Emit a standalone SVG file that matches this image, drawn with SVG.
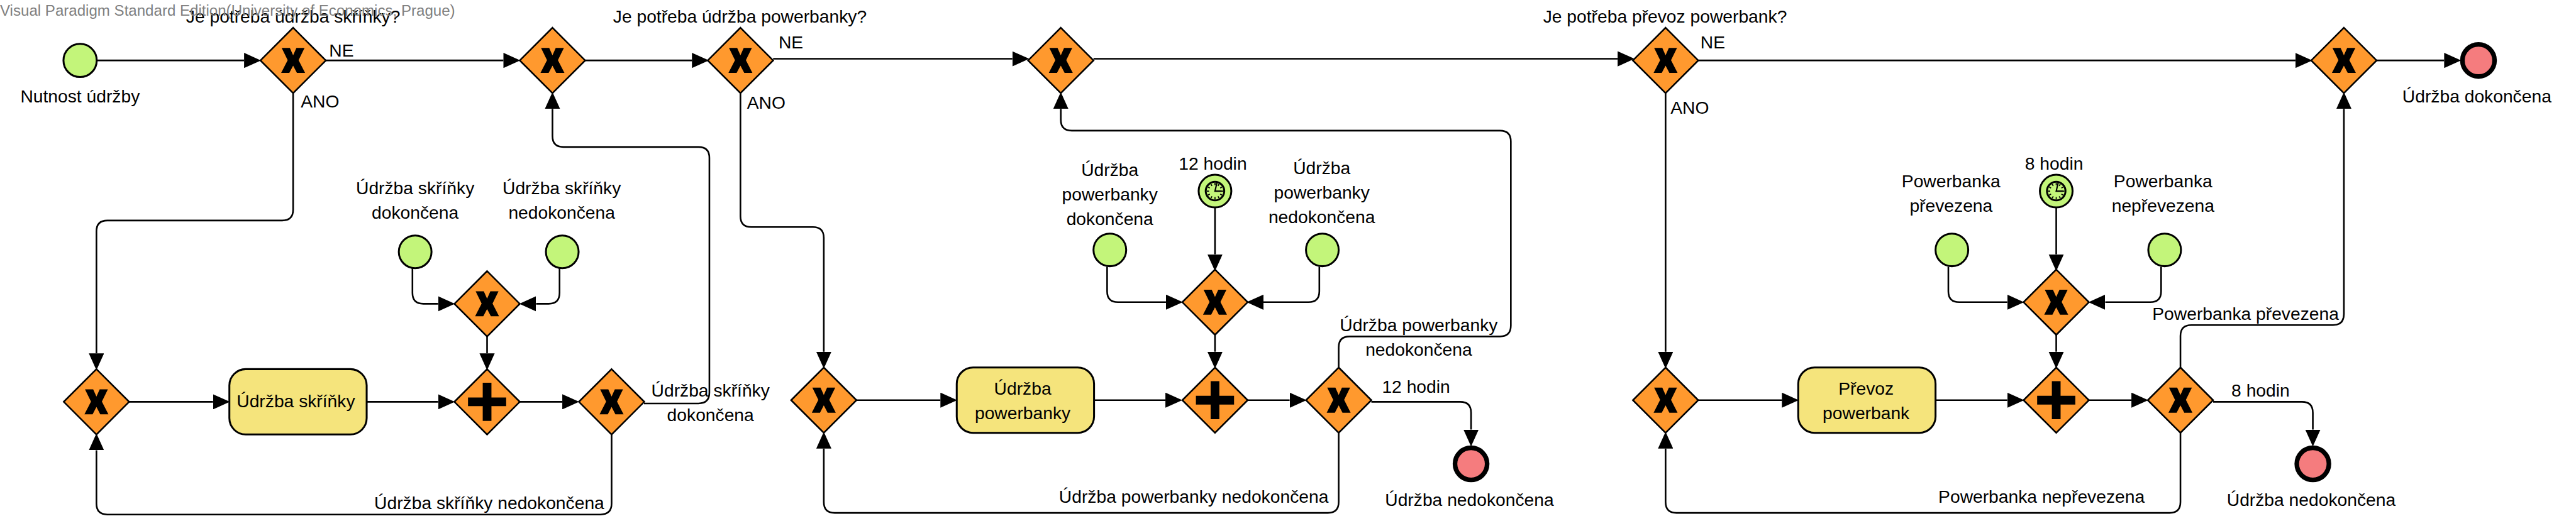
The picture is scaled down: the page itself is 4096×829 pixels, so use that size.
<svg xmlns="http://www.w3.org/2000/svg" width="4096" height="829" viewBox="0 0 4096 829">
<style>
text{font-family:"Liberation Sans",Arial,sans-serif;font-size:32.6px;fill:#000;text-anchor:middle}
text.l{text-anchor:start}
text.wm{text-anchor:start;fill:#808080;font-size:27.8px}
.ca{fill:none;stroke:#000;stroke-width:3;marker-end:url(#arrow)}
.gw{fill:#FF992E;stroke:#000;stroke-width:3;stroke-linejoin:miter}
.ev{fill:#C3F57A;stroke:#000;stroke-width:3.5}
.end{fill:#F57C7E;stroke:#000;stroke-width:8.5}
.task{fill:#F5E47C;stroke:#000;stroke-width:3.5}
</style>
<defs>
<marker id="arrow" markerUnits="userSpaceOnUse" markerWidth="31" markerHeight="28" viewBox="0 0 30 27" refX="0" refY="13.5" orient="auto"><path d="M0 0L30 13.5L0 27Z" fill="#000"/></marker>
<g id="gwx"><polygon class="gw" points="0,-60 60,0 0,60 -60,0"/><path d="M-21 -23H-6L0 -9.500L6 -23H21L10 -.500L22 23H7L0 9.500L-7 23H-22L-10 -.500Z" fill="#000"/></g>
<g id="gwp"><polygon class="gw" points="0,-60 60,0 0,60 -60,0"/><path d="M-8 -35H8V-8H35V8H8V35H-8V8H-35V-8H-8Z" fill="#000"/></g>
<g id="timer"><circle class="ev" r="30"/><circle r="17" fill="none" stroke="#000" stroke-width="3.500"/><path d="M0-15V-11M7.500-13L5.500-9.500M13-7.500L9.500-5.500M15 0H11M13 7.500L9.500 5.500M7.500 13L5.500 9.500M0 15V11M-7.500 13L-5.500 9.500M-13 7.500L-9.500 5.500M-15 0H-11M-13-7.500L-9.500-5.500M-7.500-13L-5.500-9.500" stroke="#000" stroke-width="2" fill="none"/><path d="M3.500-15L0 0H12" stroke="#000" stroke-width="2.500" fill="none"/></g>
</defs>
<g transform="scale(0.86633)">
<g id="connectors">
<path class="ca" d="M178 111H448"/>
<path class="ca" d="M598 111H924"/>
<path class="ca" d="M1074 111H1270"/>
<path class="ca" d="M1419 108H1858"/>
<path class="ca" d="M2007 108H2969"/>
<path class="ca" d="M3117 111H4213"/>
<path class="ca" d="M4362 111H4486"/>
<path class="ca" d="M538 171V385Q538 405 518 405H197Q177 405 177 425V649"/>
<path class="ca" d="M237 738H391"/>
<path class="ca" d="M673 738H804"/>
<path class="ca" d="M954 738H1032"/>
<path class="ca" d="M894 618V649"/>
<path class="ca" d="M757 493V538Q757 558 777 558H804"/>
<path class="ca" d="M1027 493V538Q1027 558 1007 558H984"/>
<path class="ca" d="M1182 741H1282Q1302 741 1302 721V290Q1302 270 1282 270H1034Q1014 270 1014 250V200"/>
<path class="ca" d="M1122.500 798V925Q1122.500 945 1102 945H197Q177 945 177 925V827"/>
<path class="ca" d="M1359 171V397Q1359 417 1379 417H1492Q1512 417 1512 437V646"/>
<path class="ca" d="M1572 735H1726"/>
<path class="ca" d="M2008 735H2139"/>
<path class="ca" d="M2290 735H2367"/>
<path class="ca" d="M2230 615V646"/>
<path class="ca" d="M2230 382V467"/>
<path class="ca" d="M2032 490V535Q2032 555 2052 555H2140"/>
<path class="ca" d="M2421.500 490V535Q2421.500 555 2401.500 555H2319"/>
<path class="ca" d="M2457 675V638Q2457 618 2477 618H2753Q2773 618 2773 598V260Q2773 240 2753 240H1967Q1947 240 1947 220V200"/>
<path class="ca" d="M2517 738H2680Q2700 738 2700 758V789"/>
<path class="ca" d="M2457 795V922Q2457 942 2437 942H1532Q1512 942 1512 922V824"/>
<path class="ca" d="M3057 171V646"/>
<path class="ca" d="M3117 735H3270.500"/>
<path class="ca" d="M3552 735H3684"/>
<path class="ca" d="M3834 735H3912"/>
<path class="ca" d="M3774 615V646"/>
<path class="ca" d="M3774 382V467"/>
<path class="ca" d="M3576 490V535Q3576 555 3596 555H3684"/>
<path class="ca" d="M3966.500 490V535Q3966.500 555 3946.500 555H3864"/>
<path class="ca" d="M4002 675V617Q4002 597 4022 597H4282Q4302 597 4302 577V200"/>
<path class="ca" d="M4062 738H4225Q4245 738 4245 758V789"/>
<path class="ca" d="M4002 795V922Q4002 942 3982 942H3077Q3057 942 3057 922V824"/>
<text class="l" x="604" y="104">NE</text>
<text class="l" x="552" y="197">ANO</text>
<text class="l" x="1429" y="89">NE</text>
<text class="l" x="1371" y="200">ANO</text>
<text class="l" x="3121" y="89">NE</text>
<text class="l" x="3066" y="209">ANO</text>
<text x="1304" y="728">Údržba skříňky<tspan x="1304" y="773">dokončena</tspan></text>
<text x="898" y="935">Údržba skříňky nedokončena</text>
<text x="2604" y="608">Údržba powerbanky<tspan x="2604" y="653">nedokončena</tspan></text>
<text x="2599" y="722">12 hodin</text>
<text x="2191" y="923">Údržba powerbanky nedokončena</text>
<text x="4121.500" y="587">Powerbanka převezena</text>
<text x="4149" y="728">8 hodin</text>
<text x="3747" y="923">Powerbanka nepřevezena</text>
</g>
<g id="start"><circle class="ev" cx="147" cy="111" r="30.500"/><text x="147" y="188">Nutnost údržby</text></g>
<g id="gw-skrinka-q"><use href="#gwx" x="538" y="111"/><text x="538" y="41.600">Je potřeba údržba skříňky?</text></g>
<g id="gw-skrinka-join"><use href="#gwx" x="1014" y="111"/></g>
<g id="gw-power-q"><use href="#gwx" x="1359" y="111"/><text x="1358" y="41.600">Je potřeba údržba powerbanky?</text></g>
<g id="gw-power-join"><use href="#gwx" x="1947" y="111"/></g>
<g id="gw-prevoz-q"><use href="#gwx" x="3057" y="111"/><text x="3056" y="41.600">Je potřeba převoz powerbank?</text></g>
<g id="gw-prevoz-join"><use href="#gwx" x="4302" y="111"/></g>
<g id="end-done"><circle class="end" cx="4549" cy="111" r="29.500"/><text x="4546" y="188">Údržba dokončena</text></g>
<g id="gw-a1"><use href="#gwx" x="177" y="738"/></g>
<g id="task-skrinka"><rect class="task" x="421" y="678" width="252" height="120" rx="30"/><text x="543" y="748">Údržba skříňky</text></g>
<g id="gw-a-plus"><use href="#gwp" x="894" y="738"/></g>
<g id="gw-a-x"><use href="#gwx" x="894" y="558"/></g>
<g id="gw-a2"><use href="#gwx" x="1122.500" y="738"/></g>
<g id="ev-a1"><circle class="ev" cx="762" cy="462.500" r="30"/><text x="762" y="356.500">Údržba skříňky<tspan x="762" y="401.500">dokončena</tspan></text></g>
<g id="ev-a2"><circle class="ev" cx="1032" cy="462.500" r="30"/><text x="1031" y="356.500">Údržba skříňky<tspan x="1031" y="401.500">nedokončena</tspan></text></g>
<g id="gw-b1"><use href="#gwx" x="1512" y="735"/></g>
<g id="task-power"><rect class="task" x="1756" y="675" width="252" height="120" rx="30"/><text x="1877" y="725">Údržba<tspan x="1877" y="770">powerbanky</tspan></text></g>
<g id="gw-b-plus"><use href="#gwp" x="2230" y="735"/></g>
<g id="gw-b-x"><use href="#gwx" x="2230" y="555"/></g>
<g id="gw-b2"><use href="#gwx" x="2457" y="735"/></g>
<g id="ev-b1"><circle class="ev" cx="2037" cy="459" r="30"/><text x="2037" y="323">Údržba<tspan x="2037" y="368">powerbanky</tspan><tspan x="2037" y="413">dokončena</tspan></text></g>
<g id="ev-b-timer"><use href="#timer" x="2230" y="351"/><text x="2226" y="312">12 hodin</text></g>
<g id="ev-b2"><circle class="ev" cx="2427" cy="459" r="30"/><text x="2426" y="320">Údržba<tspan x="2426" y="365">powerbanky</tspan><tspan x="2426" y="410">nedokončena</tspan></text></g>
<g id="end-b"><circle class="end" cx="2700" cy="852" r="29.500"/><text x="2697" y="929">Údržba nedokončena</text></g>
<g id="gw-c1"><use href="#gwx" x="3057" y="735"/></g>
<g id="task-prevoz"><rect class="task" x="3300.500" y="675" width="252" height="120" rx="30"/><text x="3425" y="725">Převoz<tspan x="3425" y="770">powerbank</tspan></text></g>
<g id="gw-c-plus"><use href="#gwp" x="3774" y="735"/></g>
<g id="gw-c-x"><use href="#gwx" x="3774" y="555"/></g>
<g id="gw-c2"><use href="#gwx" x="4002" y="735"/></g>
<g id="ev-c1"><circle class="ev" cx="3582.500" cy="459" r="30"/><text x="3581" y="344">Powerbanka<tspan x="3581" y="389">převezena</tspan></text></g>
<g id="ev-c-timer"><use href="#timer" x="3774" y="351"/><text x="3770" y="312">8 hodin</text></g>
<g id="ev-c2"><circle class="ev" cx="3973" cy="459" r="30"/><text x="3970" y="344">Powerbanka<tspan x="3970" y="389">nepřevezena</tspan></text></g>
<g id="end-c"><circle class="end" cx="4245" cy="852" r="29.500"/><text x="4242" y="929">Údržba nedokončena</text></g>
<text class="wm" x="0" y="29">Visual Paradigm Standard Edition(University of Economics, Prague)</text>
</g>
</svg>
